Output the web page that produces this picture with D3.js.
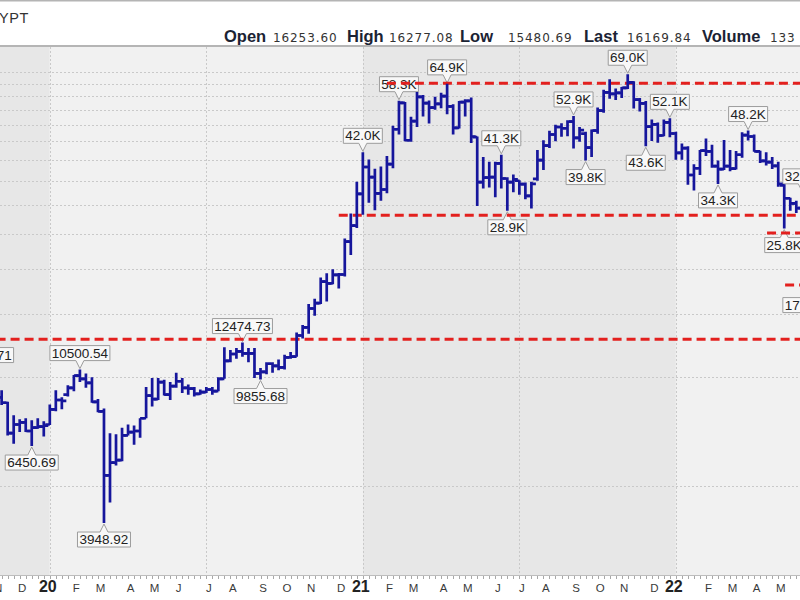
<!DOCTYPE html>
<html><head><meta charset="utf-8">
<script src="https://cdn.jsdelivr.net/npm/d3@7"></script>
<style>
html,body{margin:0;padding:0;background:#fff;}
svg{display:block;}
</style></head><body>
<svg id="chart" width="800" height="600"></svg>
<script>
// ---------------- DATA ----------------
const weeks = ["2019-10-21","2019-10-28","2019-11-04","2019-11-11","2019-11-18","2019-11-25","2019-12-02","2019-12-09","2019-12-16","2019-12-23","2019-12-30",
"2020-01-06","2020-01-13","2020-01-20","2020-01-27","2020-02-03","2020-02-10","2020-02-17","2020-02-24","2020-03-02","2020-03-09","2020-03-16","2020-03-23","2020-03-30",
"2020-04-06","2020-04-13","2020-04-20","2020-04-27","2020-05-04","2020-05-11","2020-05-18","2020-05-25","2020-06-01","2020-06-08","2020-06-15","2020-06-22","2020-06-29",
"2020-07-06","2020-07-13","2020-07-20","2020-07-27","2020-08-03","2020-08-10","2020-08-17","2020-08-24","2020-08-31","2020-09-07","2020-09-14","2020-09-21","2020-09-28",
"2020-10-05","2020-10-12","2020-10-19","2020-10-26","2020-11-02","2020-11-09","2020-11-16","2020-11-23","2020-11-30","2020-12-07","2020-12-14","2020-12-21","2020-12-28",
"2021-01-04","2021-01-11","2021-01-18","2021-01-25","2021-02-01","2021-02-08","2021-02-15","2021-02-22","2021-03-01","2021-03-08","2021-03-15","2021-03-22","2021-03-29",
"2021-04-05","2021-04-12","2021-04-19","2021-04-26","2021-05-03","2021-05-10","2021-05-17","2021-05-24","2021-05-31","2021-06-07","2021-06-14","2021-06-21","2021-06-28",
"2021-07-05","2021-07-12","2021-07-19","2021-07-26","2021-08-02","2021-08-09","2021-08-16","2021-08-23","2021-08-30","2021-09-06","2021-09-13","2021-09-20","2021-09-27",
"2021-10-04","2021-10-11","2021-10-18","2021-10-25","2021-11-01","2021-11-08","2021-11-15","2021-11-22","2021-11-29","2021-12-06","2021-12-13","2021-12-20","2021-12-27",
"2022-01-03","2022-01-10","2022-01-17","2022-01-24","2022-01-31","2022-02-07","2022-02-14","2022-02-21","2022-02-28","2022-03-07","2022-03-14","2022-03-21","2022-03-28",
"2022-04-04","2022-04-11","2022-04-18","2022-04-25","2022-05-02","2022-05-09","2022-05-16","2022-05-23","2022-05-30","2022-06-06","2022-06-13"];

const opens = [8230,9550,9300,8800,8500,7000,7400,7500,7100,7250,7300,
7400,8150,8650,8950,9350,10100,9900,9650,8550,8050,5350,5800,5900,
6900,7050,7100,7700,8900,8700,9700,8950,9450,9750,9350,9300,9000,
9100,9250,9150,9900,11100,11600,11800,11650,11650,10250,10350,10900,10750,
10650,11350,11400,13050,13750,15500,16050,18400,18200,19200,19250,23750,26300,
32200,38200,35800,32300,33100,38900,48600,57500,45300,51200,59700,57400,55800,
57100,60000,56200,49000,57800,58200,46200,34700,35700,35800,39100,35500,34700,
35000,34250,31800,35400,39900,43800,47000,49300,48900,51000,46000,47250,43200,
48200,54700,61500,60900,61300,63300,65500,58700,57300,49400,50100,46700,50800,
47300,41800,43100,36300,37900,42400,42200,38400,37700,38400,37800,41300,46800,
46400,42200,39700,39400,38500,34000,31300,30300,29400,29900,26600];

const highs = [10370.71,9950,9500,9200,8550,7850,7650,7700,7600,7700,7550,
8400,9200,8800,9500,10150,10500.54,10250,10000,8700,8200,7000,6950,7250,
7400,7350,7700,9400,9950,9950,9850,9700,10300,9950,9550,9400,9250,
9400,9400,10000,12100,11900,12050,12474.73,12050,12050,10600,11000,11000,11200,
11550,11750,13300,13950,15950,16500,18900,19400,19900,19450,24200,28400,34800,
41950,40100,37800,38300,40950,49700,58300,57800,52600,61600,60500,58400,59800,
61300,64900,57000,58200,58800,59500,46400,40700,39500,39500,41300,35800,36400,
35100,34600,34800,42600,45300,48100,50000,50500,51500,52900,49300,47800,48500,
55800,62500,66800,63000,63600,69000,66000,59300,58200,51700,50700,51700,52100,
47800,44400,43600,38900,42600,45800,44000,39800,45400,42600,42300,47700,48200,
47000,42400,42000,40700,39500,34200,31400,30800,32400,31700,26800];

const lows = [7300,8950,8700,8380,6900,6550,7050,7050,6450.69,7200,6850,
7380,8050,8150,8850,9150,9700,9350,8500,8000,3948.92,4500,5700,5850,
6900,6500,6800,7700,8300,8650,8900,8650,9350,9050,8950,8850,8950,
9050,8950,9150,9900,11000,11250,11400,11000,9950,9855.68,10200,10300,10450,
10500,11250,11400,12800,13200,14800,15950,16200,18100,17600,19000,21800,25900,
28200,30400,29000,30800,32300,37900,47000,45000,44900,49300,52700,50400,55000,
55600,53500,47000,48800,52700,44500,29800,33300,33500,31500,33300,28900,32500,
32000,31100,29300,35000,37500,43100,45000,46300,46500,43000,44900,39800,40700,
47200,54000,59000,58600,59300,62800,55500,54400,43600,45100,44600,46500,46200,
40000,40000,34100,32900,36300,41000,38000,34300,37500,37200,37600,40500,45200,
42100,39200,38600,37700,33700,25800,28900,28500,29300,26600,17600];

const closes = [9550,9300,8800,8500,7000,7400,7500,7100,7250,7300,7350,
8150,8650,8600,9350,10100,9900,9650,8550,8050,5350,5800,5900,6900,
7050,7100,7700,8900,8700,9700,8950,9450,9750,9350,9300,9000,9100,
9250,9150,9900,11100,11600,11800,11650,11650,10250,10350,10900,10750,10650,
11350,11400,13050,13750,15500,16050,18400,18200,19200,19250,23750,26300,32200,
38200,35800,32300,33100,38900,48600,57500,45300,51200,59700,57400,55800,57100,
60000,56200,49000,57800,58200,46400,34700,35700,35800,39100,35500,34700,35300,
34250,31800,34300,39900,43800,47000,49300,48900,51000,46000,48300,43200,48200,
54700,61500,60900,61300,63300,65500,58700,57300,49400,50100,46700,50800,47300,
41800,43100,36300,37900,42400,42200,38400,37700,38400,37800,41300,46800,46400,
42200,39700,39400,38500,34300,31300,30300,29400,29900,26600,20500];

// swing-point annotations
const labelDates  = ["2019-10-21","2019-12-16","2020-02-10","2020-03-09","2020-08-17","2020-09-07","2021-01-04","2021-02-15","2021-04-12","2021-06-14","2021-06-21","2021-09-06","2021-09-20","2021-11-08","2021-11-29","2021-12-27","2022-02-21","2022-03-28","2022-05-09","2022-05-30","2022-06-13"];
const labelValues = [10370.71,6450.69,10500.54,3948.92,12474.73,9855.68,41950,58300,64900,41300,28900,52900,39800,69000,43600,52100,34300,48200,25800,32400,17600];
const labelTexts  = ["10370.71","6450.69","10500.54","3948.92","12474.73","9855.68","42.0K","58.3K","64.9K","41.3K","28.9K","52.9K","39.8K","69.0K","43.6K","52.1K","34.3K","48.2K","25.8K","32.4K","17.6K"];
const labelSides  = ["above","below","above","below","above","below","above","above","above","above","below","above","below","above","below","above","below","above","below","above","below"];
const labelShift  = [0,0,0,0,0,0,0,0,0,0,0,0,0,0,0,0,0,0,0,0,-12];

// horizontal red dashed support / resistance lines
const levelValues = [65200, 28100, 12750, 25100, 18000];
const levelStarts = ["2021-02-01","2020-12-07","2019-09-01","2022-04-19","2022-05-10"];

const gridValues = [5000,10000,15000,20000,25000,30000,35000,40000,45000,50000,55000,60000,65000,70000];
const monthLetters = ["J","F","M","A","M","J","J","A","S","O","N","D"];

const headerNames  = ["Open","High","Low","Last","Volume"];
const headerValues = ["16253.60","16277.08","15480.69","16169.84","133"];
const titleText = "YPT";

// ---------------- LAYOUT ----------------
const W = 800, H = 600, plotTop = 47, plotBottom = 575;
const headerNameX  = [224, 347, 460, 584, 702];
const headerValueX = [273, 389, 508, 627, 770];
const COL_BAR = "#16169c", COL_RED = "#e3201e";

const parse = d3.utcParse("%Y-%m-%d");
const data = weeks.map((w,i)=>({date:parse(w), o:opens[i], h:highs[i], l:lows[i], c:closes[i]}));

const x = d3.scaleUtc().domain([parse("2020-01-01"), parse("2022-01-01")]).range([45.5, 674.16]);
const y = d3.scaleLog().domain([5000, 70000]).range([486, 72]);

const svg = d3.select("#chart");
svg.append("rect").attr("width",W).attr("height",H).attr("fill","#fff");

svg.append("defs").append("clipPath").attr("id","plotclip")
  .append("rect").attr("x",0).attr("y",plotTop).attr("width",W).attr("height",plotBottom-plotTop);

// ---- header ----
svg.append("line").attr("x1",0).attr("x2",W).attr("y1",0.75).attr("y2",0.75)
  .attr("stroke","#b4b4b4").attr("stroke-width",1.5);
svg.append("text").attr("x",-1).attr("y",23).text(titleText)
  .attr("font-family","Liberation Sans, Arial, sans-serif").attr("font-size",14.5)
  .attr("letter-spacing",0.6).attr("fill","#333");
headerNames.forEach((n,i)=>{
  svg.append("text").attr("x",headerNameX[i]).attr("y",41.5).text(n)
    .attr("font-family","Liberation Sans, Arial, sans-serif").attr("font-weight","bold")
    .attr("font-size",16.5).attr("fill","#1b2334");
  svg.append("text").attr("x",headerValueX[i]).attr("y",41.5).text(headerValues[i])
    .attr("font-family","DejaVu Sans, Verdana, sans-serif").attr("font-size",12)
    .attr("letter-spacing",0.9).attr("fill","#333");
});

// ---- plot background: alternating year shading ----
const yearFirst = data.filter((d,i)=> i>0 && d.date.getUTCFullYear() !== data[i-1].date.getUTCFullYear());
const bounds = [0, ...yearFirst.map(d=>x(d.date)), W];
const plot = svg.append("g").attr("clip-path","url(#plotclip)");
for (let i=0;i<bounds.length-1;i++){
  plot.append("rect").attr("x",bounds[i]).attr("y",plotTop)
    .attr("width",bounds[i+1]-bounds[i]).attr("height",plotBottom-plotTop)
    .attr("fill", i%2===0 ? "#e7e7e7" : "#f1f1f1");
}

// ---- grid ----
plot.selectAll("line.hg").data(gridValues).join("line").attr("class","hg")
  .attr("x1",0).attr("x2",W).attr("y1",d=>Math.round(y(d))+0.5).attr("y2",d=>Math.round(y(d))+0.5)
  .attr("stroke","#c9c9c9").attr("stroke-width",1).attr("stroke-dasharray","2,2");
const halfYear = data.filter((d,i)=> i>0 && d.date.getUTCMonth()!==data[i-1].date.getUTCMonth() && (d.date.getUTCMonth()===0 || d.date.getUTCMonth()===6));
plot.selectAll("line.vg").data(halfYear).join("line").attr("class","vg")
  .attr("x1",d=>Math.round(x(d.date))+0.5).attr("x2",d=>Math.round(x(d.date))+0.5)
  .attr("y1",plotTop).attr("y2",plotBottom)
  .attr("stroke","#c9c9c9").attr("stroke-width",1).attr("stroke-dasharray","2,2");

// ---- labels ----
const labG = plot.append("g");
labelDates.forEach((ds,i)=>{
  const cx = x(parse(ds)) + labelShift[i];
  const side = labelSides[i];
  const tip = side==="above" ? y(labelValues[i]) - 1 : y(labelValues[i]) + 1;
  const t = labG.append("text").text(labelTexts[i])
    .attr("font-family","Liberation Sans, Arial, sans-serif").attr("font-size",13.5)
    .attr("fill","#222").attr("text-anchor","middle");
  const tw = t.node().getComputedTextLength();
  const w = Math.round(tw + 4), h = 15;
  const x0 = cx - w/2, x1 = cx + w/2, px = x(parse(ds));
  let p, ty;
  if (side==="above"){
    const bb = tip - 8, bt = bb - h;
    p = `M${x0},${bt}H${x1}V${bb}H${px+4}L${px},${tip}L${px-4},${bb}H${x0}Z`;
    ty = bt + 12;
  } else {
    const bt = tip + 8, bb = bt + h;
    p = `M${x0},${bt}H${px-4}L${px},${tip}L${px+4},${bt}H${x1}V${bb}H${x0}Z`;
    ty = bt + 12;
  }
  labG.insert("path","text").attr("d",p).attr("fill","#f8f8f8").attr("stroke","#9c9c9c").attr("stroke-width",1);
  t.attr("x",cx).attr("y",ty);
  t.raise();
});

// ---- red dashed levels ----
levelValues.forEach((v,i)=>{
  plot.append("line").attr("x1",x(parse(levelStarts[i]))).attr("x2",W+20)
    .attr("y1",y(v)).attr("y2",y(v))
    .attr("stroke",COL_RED).attr("stroke-width",3).attr("stroke-dasharray","9,5");
});

// ---- OHLC bars ----
const tick = 4.5;
plot.selectAll("path.bar").data(data).join("path").attr("class","bar")
  .attr("d",d=>{
    const cx = x(d.date);
    return `M${cx},${y(d.h)}V${y(d.l)}M${cx-tick},${y(d.o)}H${cx}M${cx},${y(d.c)}H${cx+tick}`;
  })
  .attr("fill","none").attr("stroke",COL_BAR).attr("stroke-width",2.7);

// ---- top border of plot ----
svg.append("line").attr("x1",0).attr("x2",W).attr("y1",46).attr("y2",46)
  .attr("stroke","#9c9c9c").attr("stroke-width",1.5);

// ---- x axis ----
svg.append("line").attr("x1",0).attr("x2",W).attr("y1",plotBottom+0.5).attr("y2",plotBottom+0.5)
  .attr("stroke","#bdbdbd").attr("stroke-width",1);
svg.selectAll("line.wt").data(data).join("line").attr("class","wt")
  .attr("x1",d=>Math.round(x(d.date))+0.5).attr("x2",d=>Math.round(x(d.date))+0.5)
  .attr("y1",plotBottom+1).attr("y2",plotBottom+4)
  .attr("stroke","#a8a8a8").attr("stroke-width",1);
const monthFirst = data.filter((d,i)=> i>0 && d.date.getUTCMonth()!==data[i-1].date.getUTCMonth());
svg.selectAll("text.ml").data(monthFirst).join("text").attr("class","ml")
  .attr("x",d=> x(d.date) + (d.date.getUTCMonth()===0 ? -2 : 2.5))
  .attr("y",592)
  .attr("text-anchor","middle")
  .attr("font-family","Liberation Sans, Arial, sans-serif")
  .attr("font-size",d=> d.date.getUTCMonth()===0 ? 16 : 11.5)
  .attr("font-weight",d=> d.date.getUTCMonth()===0 ? "bold" : "normal")
  .attr("fill",d=> d.date.getUTCMonth()===0 ? "#222" : "#3a3a3a")
  .text(d=> d.date.getUTCMonth()===0 ? String(d.date.getUTCFullYear()).slice(2) : monthLetters[d.date.getUTCMonth()]);
</script>
</body></html>
